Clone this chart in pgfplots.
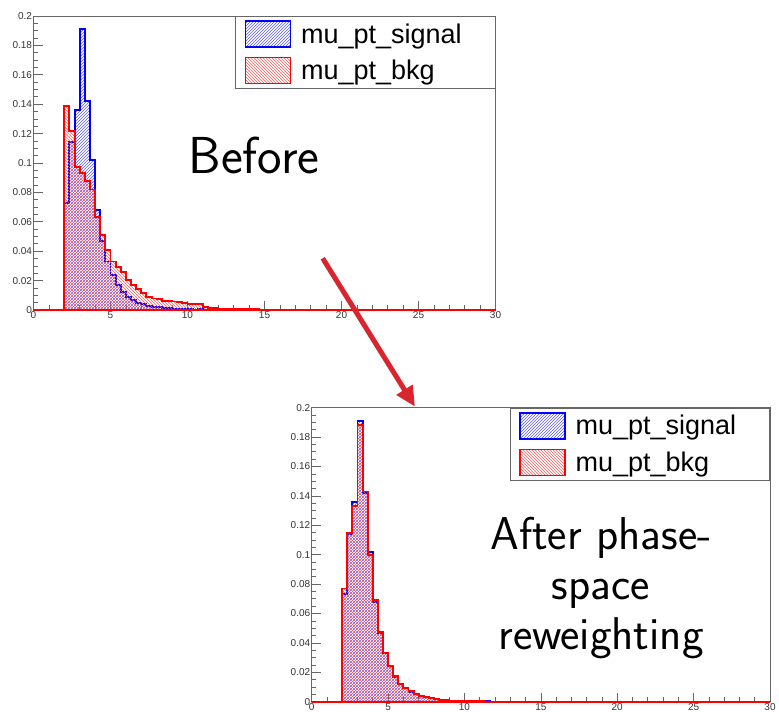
\documentclass[border=0pt]{standalone}
\usepackage{fontspec}
\setmainfont{Liberation Sans}
\usepackage{pgfplots}
\pgfplotsset{compat=1.18}
\usetikzlibrary{patterns,arrows.meta}
\definecolor{arrowred}{RGB}{217,37,45}

\pgfplotsset{
 rootstyle/.style={
   scale only axis, anchor=south west,
   xmin=0,xmax=30,ymin=0,ymax=0.2,
   xtick={0,5,...,30}, minor x tick num=4,
   ytick={0,0.02,0.04,0.06,0.08,0.1,0.12,0.14,0.16,0.18,0.2}, minor y tick num=3,
   tick pos=left, tick align=inside,
   major tick length=9pt, minor tick length=4.5pt,
   axis line style={black!60, line width=0.8pt},
   every tick/.style={black!60, line width=0.7pt},
   ticklabel style={font=\fontsize{10}{11}\selectfont, text=black!80},
   /pgf/number format/assume math mode=true,
   yticklabel style={/pgf/number format/fixed, /pgf/number format/precision=2, xshift=2pt},
   xticklabel style={yshift=2pt},
   clip=false,
   every axis plot/.append style={const plot, line width=1.9pt},
   legend image code/.code={\draw[#1, line width=1.4pt] (0pt,-13pt) rectangle (45pt,13pt);},
   legend style={at={(rel axis cs:1,1)}, anchor=north east, draw=black!60, line width=0.8pt, fill=white,
     font=\fontsize{27}{28}\selectfont, inner xsep=9pt, inner ysep=4pt, row sep=9pt, column sep=10pt,
     nodes={inner sep=0pt}, cells={anchor=west}},
 },
 sig/.style={draw=blue, pattern=north east lines, pattern color=blue!65},
 bkg/.style={draw=red, pattern=north west lines, pattern color=red!65},
}

\begin{document}
\begin{tikzpicture}
\useasboundingbox (0,0) rectangle (779pt,713pt);

% ---------------- Before ----------------
\begin{axis}[rootstyle, at={(33.5pt,403pt)}, width=462pt, height=294pt]
\addplot[sig] coordinates {
(0,0) (2,0.073) (2.333,0.114) (2.667,0.136) (3,0.191) (3.333,0.142) (3.667,0.102)
(4,0.068) (4.333,0.047) (4.667,0.033) (5,0.024) (5.333,0.017) (5.667,0.012)
(6,0.009) (6.333,0.0068) (6.667,0.005) (7,0.004) (7.333,0.003) (7.667,0.0023)
(8,0.0018) (8.333,0.0014) (8.667,0.0011) (9,0.0008) (9.333,0.0006) (9.667,0.0005)
(10,0.0004) (10.333,0.0003) (10.667,0.0005) (11,0.0003) (11.333,0.0002) (11.667,0)
(18.667,0.0003) (19.667,0) (30,0)} \closedcycle;
\addlegendentry{\makebox[185pt][l]{mu\_pt\_signal}}
\addplot[bkg] coordinates {
(0,0) (2,0.139) (2.333,0.122) (2.667,0.097) (3,0.093) (3.333,0.088) (3.667,0.082)
(4,0.063) (4.333,0.051) (4.667,0.041) (5,0.033) (5.333,0.0295) (5.667,0.026)
(6,0.0205) (6.333,0.017) (6.667,0.014) (7,0.0113) (7.333,0.009) (7.667,0.0078)
(8,0.0072) (8.333,0.0062) (8.667,0.006) (9,0.0058) (9.333,0.0055) (9.667,0.0045)
(10,0.004) (10.333,0.004) (10.667,0.0038) (11,0.0023) (11.333,0.0015) (11.667,0.0012)
(12,0.001) (12.333,0.0009) (12.667,0.0008) (13,0.0007) (13.333,0.0006) (13.667,0.0005)
(14,0.0005) (14.333,0.0004) (14.667,0.0003) (15,0.0003) (15.333,0.0002) (15.667,0.0002)
(16,0.0001) (16.333,0) (17.667,0.0003) (18.333,0) (30,0)} \closedcycle;
\addlegendentry{\makebox[185pt][l]{mu\_pt\_bkg}}
\end{axis}

% ---------------- After ----------------
\begin{axis}[rootstyle, at={(311.7pt,11.3pt)}, width=458.3pt, height=294pt]
\addplot[sig] coordinates {
(0,0) (2,0.073) (2.333,0.114) (2.667,0.136) (3,0.191) (3.333,0.142) (3.667,0.102)
(4,0.068) (4.333,0.047) (4.667,0.033) (5,0.024) (5.333,0.017) (5.667,0.012)
(6,0.009) (6.333,0.0068) (6.667,0.005) (7,0.004) (7.333,0.003) (7.667,0.0023)
(8,0.0018) (8.333,0.0014) (8.667,0.0011) (9,0.0008) (9.333,0.0006) (9.667,0.0005)
(10,0.0004) (10.333,0.0003) (10.667,0.0005) (11,0.0003) (11.333,0.0002) (11.667,0)
(30,0)} \closedcycle;
\addlegendentry{\makebox[185pt][l]{mu\_pt\_signal}}
\addplot[bkg] coordinates {
(0,0) (2,0.077) (2.333,0.115) (2.667,0.133) (3,0.188) (3.333,0.143) (3.667,0.0995)
(4,0.069) (4.333,0.0475) (4.667,0.0335) (5,0.024) (5.333,0.0172) (5.667,0.0122)
(6,0.0092) (6.333,0.007) (6.667,0.0052) (7,0.0041) (7.333,0.0031) (7.667,0.0024)
(8,0.0018) (8.333,0.0013) (8.667,0.001) (9,0.0008) (9.333,0.0006) (9.667,0.0005)
(10,0.0004) (10.333,0.0003) (10.667,0.0003) (11,0.0002) (11.333,0.0001) (11.667,0)
(30,0)} \closedcycle;
\addlegendentry{\makebox[185pt][l]{mu\_pt\_bkg}}
\end{axis}

\node[font=\sffamily\fontsize{52}{54}\selectfont] at (254pt,558pt) {Before};
\node[align=center, font=\sffamily\fontsize{46}{50}\selectfont] at (601pt,125pt) {After phase-\\space\\reweighting};

\draw[line width=5pt, arrowred, -{Triangle[length=20pt,width=18pt]}] (322.7pt,454.7pt) -- (415pt,306.3pt);
\end{tikzpicture}
\end{document}
